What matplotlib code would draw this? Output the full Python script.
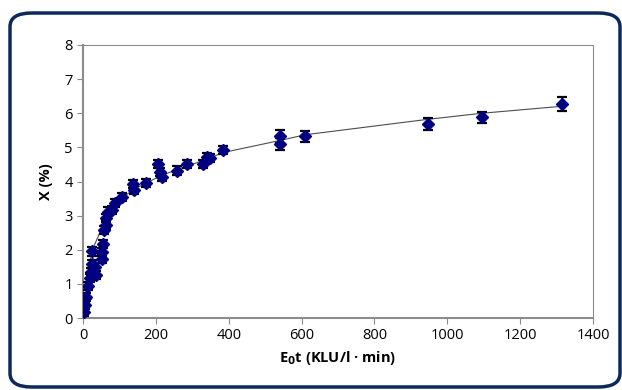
import matplotlib
matplotlib.use("Agg")
import matplotlib.pyplot as plt
from matplotlib.patches import FancyBboxPatch

# measured points
dose = [3, 5, 6, 8, 13, 19, 22, 24, 25, 33, 37, 51, 53, 55, 58, 62, 63, 68, 79,
        88, 106, 136, 140, 173, 206, 211, 216, 257, 286, 330, 340, 349, 383,
        541, 541, 609, 947, 1095, 1315]
conv = [0.18, 0.38, 0.58, 0.62, 0.94, 1.17, 1.35, 1.95, 1.58, 1.5, 1.26, 1.72,
        1.94, 2.16, 2.58, 2.73, 2.93, 3.12, 3.17, 3.37, 3.55, 3.93, 3.75, 3.96,
        4.52, 4.28, 4.13, 4.32, 4.52, 4.52, 4.72, 4.69, 4.93, 5.32, 5.1, 5.32,
        5.68, 5.88, 6.28]
err = [0.12] * 33 + [0.18, 0.18, 0.15, 0.17, 0.17, 0.2]

# model curve
model_x = [3, 10, 24, 50, 65, 88, 106, 136, 173, 210, 257, 300, 345, 385,
           540, 610, 945, 1095, 1310]
model_y = [0.2, 1.0, 1.95, 2.6, 3.0, 3.3, 3.5, 3.75, 3.95, 4.15, 4.35, 4.5,
           4.68, 4.85, 5.2, 5.37, 5.82, 6.0, 6.2]

plt.rcParams['font.family'] = ['Open Sans', 'DejaVu Sans']

fig = plt.figure(figsize=(6.22, 3.9), dpi=100)
frame = FancyBboxPatch((10 / 622, 3 / 390), 610 / 622, 374 / 390,
                       boxstyle="round,pad=0,rounding_size=0.035",
                       transform=fig.transFigure, facecolor='none',
                       edgecolor='#0b2a5b', linewidth=2.5, clip_on=False)
fig.patches.append(frame)

ax = fig.add_axes([83 / 622, 72 / 390, 510 / 622, 273 / 390])
ax.plot(model_x, model_y, color='#4a4a5a', linewidth=0.8, zorder=2)
ax.errorbar(dose, conv, yerr=err, fmt='D', color='#000080', markersize=6.5,
            ecolor='black', elinewidth=1.2, capsize=3.5, capthick=1.6, zorder=3)

ax.set_xlim(0, 1400)
ax.set_ylim(0, 8)
ax.set_xticks(range(0, 1401, 200))
ax.set_yticks(range(0, 9))
for s in ax.spines.values():
    s.set_color('#8c8c8c')
ax.spines['bottom'].set_linewidth(1.5)
ax.spines['left'].set_linewidth(1.5)
ax.tick_params(colors='#8c8c8c', labelcolor='black', labelsize=10.5,
               length=4, direction='out')
ax.set_xlabel('E$_\\mathbf{0}$t (KLU/l · min)', fontsize=10.5,
              fontweight='bold', labelpad=4)
ax.set_ylabel('X (%)', fontsize=10.5, fontweight='bold', labelpad=8)

fig.savefig('out.png', dpi=100)
